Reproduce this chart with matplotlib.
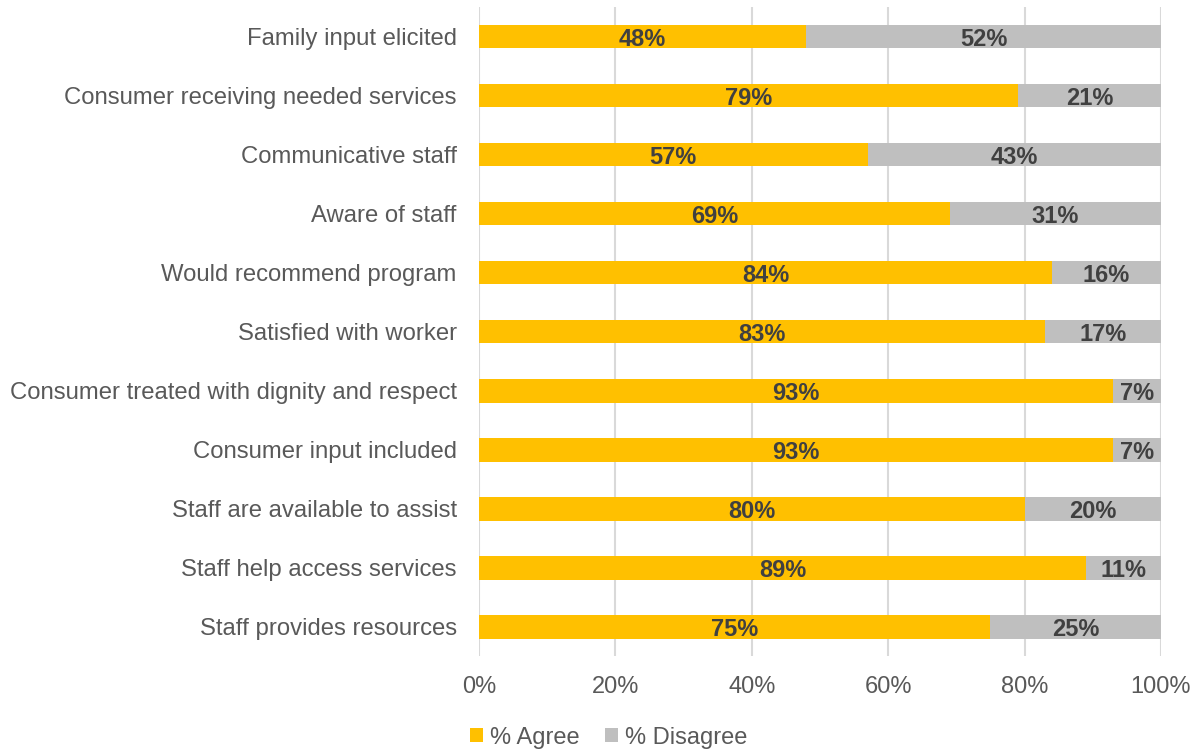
import matplotlib.pyplot as plt
import numpy as np

plt.rcParams['font.family'] = ['Liberation Sans', 'DejaVu Sans']

categories = ['Family input elicited', 'Consumer receiving needed services',
              'Communicative staff', 'Aware of staff', 'Would recommend program',
              'Satisfied with worker', 'Consumer treated with dignity and respect',
              'Consumer input included', 'Staff are available to assist',
              'Staff help access services', 'Staff provides resources']
agree = [48, 79, 57, 69, 84, 83, 93, 93, 80, 89, 75]
disagree = [52, 21, 43, 31, 16, 17, 7, 7, 20, 11, 25]
ticks = [0, 20, 40, 60, 80, 100]

yellow = '#ffc000'
grey = '#bfbfbf'
txt = '#595959'
fs = 17

fig = plt.figure(figsize=(11.98, 7.49), dpi=100)
ax = fig.add_axes([0.3998, 0.1235, 0.5693, 0.8665])

y = np.arange(len(categories))
h = 0.39
ax.barh(y, agree, height=h, color=yellow, label='% Agree', zorder=3)
ax.barh(y, disagree, left=agree, height=h, color=grey, label='% Disagree', zorder=3)

# segment labels, nudged down a little so the digits sit on the bar centre
for i in range(len(categories)):
    ax.annotate(f'{agree[i]}%', (agree[i] / 2, y[i]), xytext=(0, -1.5),
                textcoords='offset points', ha='center', va='center',
                fontsize=fs, fontweight='bold', color='#404040', zorder=4)
    ax.annotate(f'{disagree[i]}%', (agree[i] + disagree[i] / 2, y[i]), xytext=(0, -1.5),
                textcoords='offset points', ha='center', va='center',
                fontsize=fs, fontweight='bold', color='#404040', zorder=4)

ax.set_ylim(len(categories) - 0.5, -0.5)
ax.set_xlim(0, 100)
ax.set_yticks(y)
ax.set_yticklabels(categories, fontsize=17.2, color=txt)
ax.set_xticks(ticks)
ax.set_xticklabels([f'{t}%' for t in ticks], fontsize=fs, color=txt)
ax.tick_params(length=0)
ax.tick_params(axis='x', pad=14)
ax.tick_params(axis='y', pad=16)
ax.grid(axis='x', color='#d9d9d9', linewidth=1.5, zorder=0)
for s in ax.spines.values():
    s.set_visible(False)

fig.legend(loc='lower center', bbox_to_anchor=(0.508, -0.028), ncol=2, frameon=False,
           fontsize=fs, labelcolor=txt, handlelength=0.55, handleheight=0.55,
           handletextpad=0.3, columnspacing=1.1)

plt.savefig('out.png', dpi=100)
